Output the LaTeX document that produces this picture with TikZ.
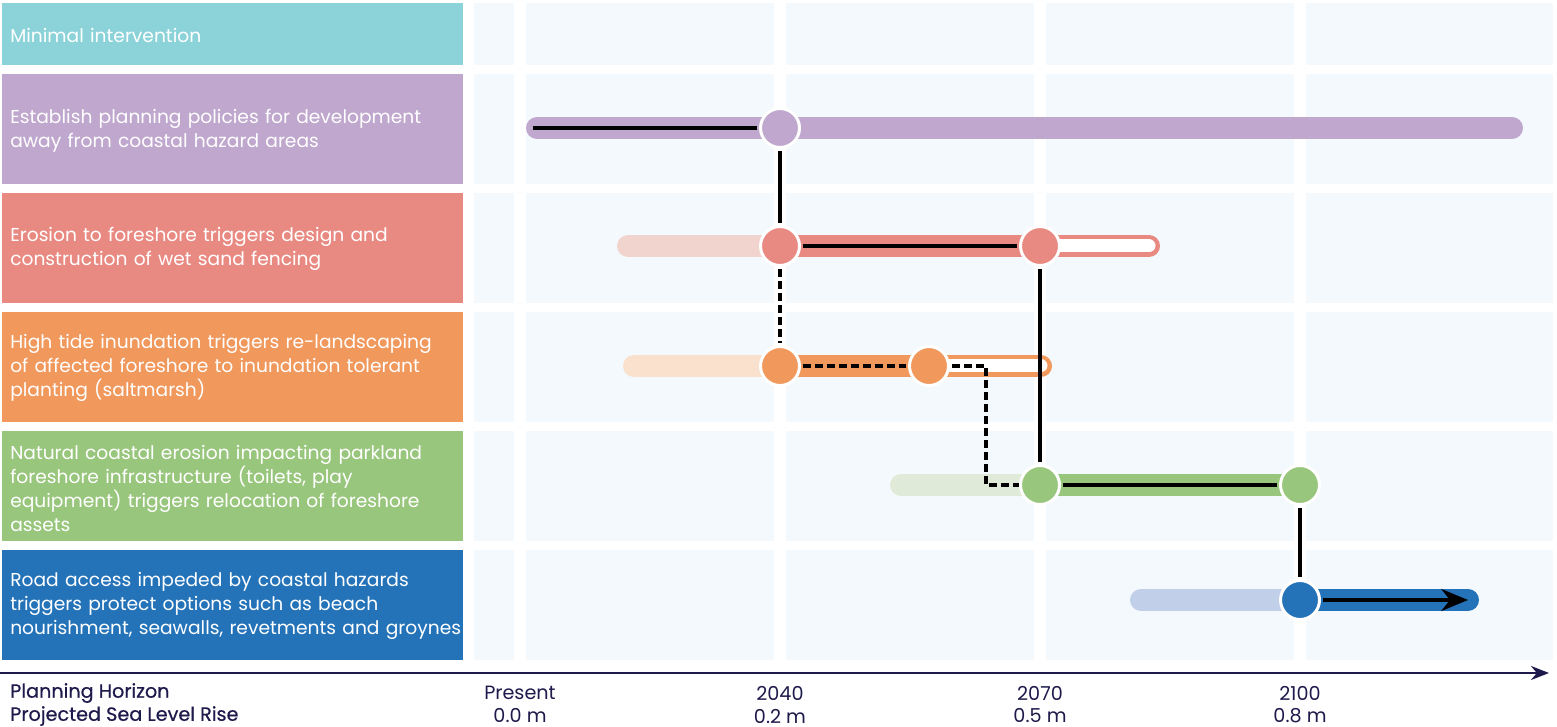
\documentclass[tikz,border=0pt]{standalone}
\usepackage{fontspec}
\setmainfont{Poppins}
\usetikzlibrary{arrows.meta}

\definecolor{cteal}{HTML}{8BD3D9}
\definecolor{cpurple}{HTML}{C0A7CE}
\definecolor{csalmon}{HTML}{E98A82}
\definecolor{corange}{HTML}{F1985C}
\definecolor{cgreen}{HTML}{99C67D}
\definecolor{cblue}{HTML}{2473B9}
\definecolor{fsalmon}{HTML}{F2D4CF}
\definecolor{forange}{HTML}{F9E1CD}
\definecolor{fgreen}{HTML}{DFEBD8}
\definecolor{fblue}{HTML}{C2CFE8}
\definecolor{cellbg}{HTML}{F3F9FC}
\definecolor{navy}{HTML}{1E1A4B}

\tikzset{
  rowtext/.style={anchor=west, text width=342pt, inner sep=0pt, align=left,
    text=white, font=\fontsize{14pt}{18pt}\selectfont},
  bar/.style={line width=16.5pt, line cap=round},
  hollow/.style={line width=9.75pt, line cap=round, white},
  dot/.style={circle, draw=white, line width=2.25pt, inner sep=0pt, minimum size=29.25pt},
  link/.style={line width=2.6pt, black, shorten <=1.5pt, shorten >=1.5pt},
  dashlink/.style={link, dash pattern=on 6pt off 3pt},
  axis/.style={line width=1.5pt, navy, -{Stealth[length=13.5pt, width=10.5pt]}},
  axlabel/.style={anchor=west, text=navy, inner sep=0pt, font=\fontsize{14.4pt}{15pt}\selectfont\addfontfeature{FakeBold=0.5}},
  axvalue/.style={text=navy, inner sep=0pt, font=\fontsize{14.4pt}{15pt}\selectfont},
}

\begin{document}
\begin{tikzpicture}[x=0.75pt, y=-0.75pt]
\useasboundingbox[fill=white] (0,0) rectangle (1557,727);

% background grid of cells
\foreach \ya/\yb in {3/65, 74/184, 193/303, 312/422, 431/541, 550/660}{
  \foreach \xa/\xb in {474/514, 526/774, 786/1034, 1046/1294, 1306/1553}{
    \fill[cellbg] (\xa,\ya) rectangle (\xb,\yb);
  }
}

% row label panels
\fill[cteal]   (2,3)   rectangle (463,65);
\fill[cpurple] (2,74)  rectangle (463,184);
\fill[csalmon] (2,193) rectangle (463,303);
\fill[corange] (2,312) rectangle (463,422);
\fill[cgreen]  (2,431) rectangle (463,541);
\fill[cblue]   (2,550) rectangle (463,660);

% row label texts
\node[rowtext] (r1) at (10,35) {Minimal intervention};
\node[rowtext] (r2) at (10,131) {Establish planning policies for development\\away from coastal hazard areas};
\node[rowtext] (r3) at (10,249) {Erosion to foreshore triggers design and\\construction of wet sand fencing};
\node[rowtext] (r4) at (10,368) {High tide inundation triggers re-landscaping\\of affected foreshore to inundation tolerant\\planting (saltmarsh)};
\node[rowtext] (r5) at (10,488) {Natural coastal erosion impacting parkland\\foreshore infrastructure (toilets, play\\equipment) triggers relocation of foreshore\\assets};
\node[rowtext] (r6) at (10,606) {Road access impeded by coastal hazards\\triggers protect options such as beach\\nourishment, seawalls, revetments and groynes};

% bars
\draw[bar, cpurple] (537,128) -- (1512,128);

\draw[bar, fsalmon] (628,246) -- (780,246);
\draw[bar, csalmon] (780,246) -- (1149,246);
\draw[hollow] (1040,246) -- (1149,246);

\draw[bar, forange] (634,366) -- (780,366);
\draw[bar, corange] (780,366) -- (1041,366);
\draw[hollow] (929,366) -- (1041,366);

\draw[bar, fgreen] (901,485) -- (1040,485);
\draw[bar, cgreen] (1040,485) -- (1300,485);

\draw[bar, fblue] (1141,600) -- (1300,600);
\draw[bar, cblue] (1300,600) -- (1468,600);

% milestones
\node[dot, fill=cpurple] (p1) at (780,128) {};
\node[dot, fill=csalmon] (e1) at (780,246) {};
\node[dot, fill=csalmon] (e2) at (1040,246) {};
\node[dot, fill=corange] (o1) at (780,366) {};
\node[dot, fill=corange] (o2) at (929,366) {};
\node[dot, fill=cgreen] (g1) at (1040,485) {};
\node[dot, fill=cgreen] (g2) at (1300,485) {};
\node[dot, fill=cblue] (b1) at (1300,600) {};

\coordinate (pstart) at (533,128);
\coordinate (obend1) at (986,366);
\coordinate (obend2) at (986,485);
\coordinate (bend) at (1468,600);

% pathways
\draw[link, shorten <=0pt] (pstart) -- (p1);
\draw[link] (p1) -- (e1);
\draw[dashlink] (e1) -- (o1);
\draw[link] (e1) -- (e2);
\draw[link] (e2) -- (g1);
\draw[dashlink] (o1) -- (o2);
\draw[dashlink, shorten >=0pt] (o2) -- (obend1) -- (obend2) -- (g1);
\draw[link] (g1) -- (g2);
\draw[link] (g2) -- (b1);
\draw[link, shorten >=0pt, -{Stealth[length=20pt, width=16.5pt]}] (b1) -- (bend);

% time axis
\coordinate (axstart) at (0,673);
\coordinate (axend) at (1549,673);
\draw[axis] (axstart) -- (axend);

\node[axlabel] (ph) at (10,693) {Planning Horizon};
\node[axlabel] (sl) at (10,716) {Projected Sea Level Rise};

\node[axvalue] (t0) at (520,693) {Present};
\node[axvalue] (s0) at (520,716) {0.0 m};
\node[axvalue] (t1) at (780,693) {2040};
\node[axvalue] (s1) at (780,716) {0.2 m};
\node[axvalue] (t2) at (1040,693) {2070};
\node[axvalue] (s2) at (1040,716) {0.5 m};
\node[axvalue] (t3) at (1300,693) {2100};
\node[axvalue] (s3) at (1300,716) {0.8 m};
\end{tikzpicture}
\end{document}
